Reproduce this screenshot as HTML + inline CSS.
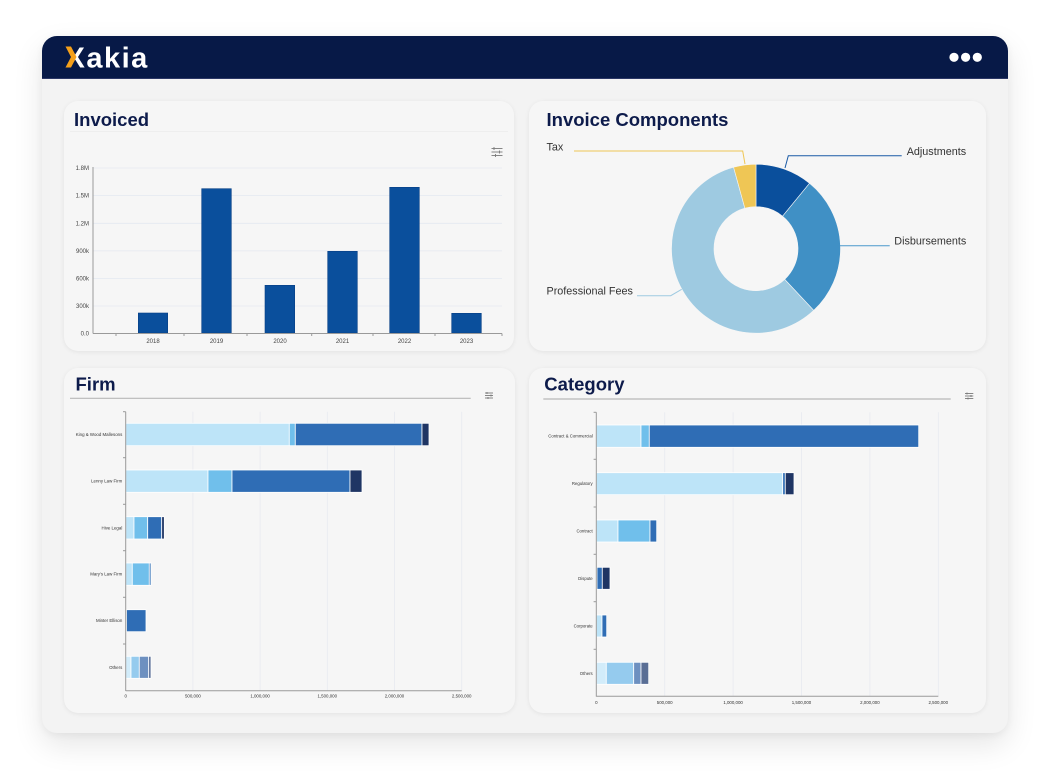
<!DOCTYPE html>
<html><head><meta charset="utf-8">
<style>
html,body{margin:0;padding:0;background:#fff;}
body{width:1059px;height:782px;position:relative;overflow:hidden;font-family:"Liberation Sans",sans-serif;}
.card{position:absolute;left:42px;top:36px;width:966px;height:697px;background:#f3f3f3;border-radius:15px;box-shadow:0 12px 30px rgba(0,0,0,0.10),0 2px 8px rgba(0,0,0,0.05);}
.hdr{position:absolute;left:42px;top:36px;width:966px;height:43px;background:#071947;border-radius:15px 15px 0 0;border-bottom:1px solid #2b3766;box-sizing:border-box;}
.panel{position:absolute;background:#f6f6f6;border-radius:14px;box-shadow:0 1px 5px rgba(0,0,0,0.07);}
svg{position:absolute;left:0;top:0;}
</style></head><body>
<div class="card"></div>
<div class="hdr"></div>
<div class="panel" style="left:64px;top:101px;width:450px;height:250px;"></div>
<div class="panel" style="left:529px;top:101px;width:457px;height:250px;"></div>
<div class="panel" style="left:64px;top:368px;width:451px;height:345px;"></div>
<div class="panel" style="left:529px;top:368px;width:457px;height:345px;"></div>

<svg width="1059" height="782" viewBox="0 0 1059 782" xmlns="http://www.w3.org/2000/svg" font-family="Liberation Sans, sans-serif">
<!-- logo -->
<text x="65.5" y="67.5" font-size="29" font-weight="bold" fill="#ffffff" letter-spacing="1.5">Xakia</text>
<polygon points="65.5,46.5 71,46.5 76.5,57 71,67.5 65.5,67.5 71,57" fill="#f5a01a"/>
<!-- dots -->
<circle cx="954" cy="57.3" r="4.6" fill="#fff"/>
<circle cx="965.6" cy="57.3" r="4.6" fill="#fff"/>
<circle cx="977.3" cy="57.3" r="4.6" fill="#fff"/>

<!-- titles -->
<g font-weight="bold" font-size="18.5" fill="#0d1b4b">
<text x="74" y="126">Invoiced</text>
<text x="546.5" y="126">Invoice Components</text>
<text x="75.5" y="390.5">Firm</text>
<text x="544.3" y="390.5">Category</text>
</g>
<line x1="70" y1="131.5" x2="508" y2="131.5" stroke="#eeeeee" stroke-width="1"/>

<!-- filter icons -->
<g stroke="#7a7a7a" stroke-width="0.9" fill="none">
<line x1="491.5" y1="148.5" x2="502.5" y2="148.5"/><line x1="491.5" y1="152" x2="502.5" y2="152"/><line x1="491.5" y1="155.5" x2="502.5" y2="155.5"/>
<line x1="494" y1="147" x2="494" y2="150"/><line x1="499.5" y1="150.5" x2="499.5" y2="153.5"/><line x1="495.5" y1="154" x2="495.5" y2="157"/>
<line x1="485" y1="393" x2="493" y2="393"/><line x1="485" y1="395.5" x2="493" y2="395.5"/><line x1="485" y1="398" x2="493" y2="398"/>
<line x1="487" y1="392" x2="487" y2="394"/><line x1="491" y1="394.5" x2="491" y2="396.5"/><line x1="488" y1="397" x2="488" y2="399"/>
<line x1="965" y1="393.5" x2="973.3" y2="393.5"/><line x1="965" y1="396" x2="973.3" y2="396"/><line x1="965" y1="398.5" x2="973.3" y2="398.5"/>
<line x1="967" y1="392.5" x2="967" y2="394.5"/><line x1="971" y1="395" x2="971" y2="397"/><line x1="968" y1="397.5" x2="968" y2="399.5"/>
</g>

<!-- ===== Invoiced chart ===== -->
<g stroke="#e4e8f0" stroke-width="0.8">
<line x1="93" y1="168" x2="502" y2="168"/><line x1="93" y1="195.6" x2="502" y2="195.6"/>
<line x1="93" y1="223.3" x2="502" y2="223.3"/><line x1="93" y1="250.9" x2="502" y2="250.9"/>
<line x1="93" y1="278.4" x2="502" y2="278.4"/><line x1="93" y1="306" x2="502" y2="306"/>
</g>
<g fill="#0a4f9c" stroke="#083f85" stroke-width="0.6">
<rect x="138.3" y="313" width="29.4" height="20"/>
<rect x="201.7" y="188.7" width="29.6" height="144.3"/>
<rect x="265" y="285.3" width="29.7" height="47.7"/>
<rect x="327.7" y="251.3" width="29.6" height="81.7"/>
<rect x="389.7" y="187.3" width="29.6" height="145.7"/>
<rect x="451.7" y="313.3" width="29.6" height="19.7"/>
</g>
<g stroke="#9a9a9a" stroke-width="1">
<line x1="93" y1="167" x2="93" y2="333.5"/>
<line x1="93" y1="333.5" x2="502" y2="333.5"/>
<line x1="116" y1="333.5" x2="116" y2="336"/><line x1="184" y1="333.5" x2="184" y2="336"/>
<line x1="247" y1="333.5" x2="247" y2="336"/><line x1="311.7" y1="333.5" x2="311.7" y2="336"/>
<line x1="373" y1="333.5" x2="373" y2="336"/><line x1="435" y1="333.5" x2="435" y2="336"/>
<line x1="502" y1="333.5" x2="502" y2="336"/>
</g>
<g font-size="6" fill="#444" text-anchor="end">
<text x="89" y="170">1.8M</text><text x="89" y="197.6">1.5M</text><text x="89" y="225.3">1.2M</text>
<text x="89" y="252.9">900k</text><text x="89" y="280.4">600k</text><text x="89" y="308">300k</text><text x="89" y="335.5">0.0</text>
</g>
<g font-size="6" fill="#444" text-anchor="middle">
<text x="153" y="343">2018</text><text x="216.5" y="343">2019</text><text x="280" y="343">2020</text>
<text x="342.5" y="343">2021</text><text x="404.5" y="343">2022</text><text x="466.5" y="343">2023</text>
</g>

<!-- ===== Donut ===== -->
<g stroke="#f6f6f6" stroke-width="0.6">
<path d="M756,164.2 A84.5,84.5 0 0 1 809.52,183.31 L782.60,216.20 A42,42 0 0 0 756,206.7 Z" fill="#0a4f9c"/>
<path d="M809.52,183.31 A84.5,84.5 0 0 1 813.74,310.40 L784.70,279.37 A42,42 0 0 0 782.60,216.20 Z" fill="#4090c5"/>
<path d="M813.74,310.40 A84.5,84.5 0 1 1 733.56,167.23 L744.85,208.21 A42,42 0 1 0 784.70,279.37 Z" fill="#9ecae1"/>
<path d="M733.56,167.23 A84.5,84.5 0 0 1 756,164.2 L756,206.7 A42,42 0 0 0 744.85,208.21 Z" fill="#efc655"/>
</g>
<g fill="none" stroke-width="1">
<polyline points="574,151 742.7,151 745,164" stroke="#efc655"/>
<polyline points="901.7,155.7 788.3,155.7 785,168" stroke="#1a5aa5"/>
<polyline points="889.7,245.7 840,245.7" stroke="#4a98cc"/>
<polyline points="637,295.7 670.7,295.7 681.7,289.3" stroke="#9ecae1"/>
</g>
<g font-size="10.8" fill="#333">
<text x="546.5" y="150.5">Tax</text>
<text x="906.7" y="155">Adjustments</text>
<text x="894.3" y="244.5">Disbursements</text>
<text x="546.5" y="294.5">Professional Fees</text>
</g>

<!-- ===== Firm chart ===== -->
<line x1="70" y1="398.3" x2="470.7" y2="398.3" stroke="#b8b8b8" stroke-width="1.2"/>
<g stroke="#e8eaf0" stroke-width="0.8">
<line x1="192.9" y1="411.7" x2="192.9" y2="690.7"/><line x1="260.1" y1="411.7" x2="260.1" y2="690.7"/>
<line x1="327.3" y1="411.7" x2="327.3" y2="690.7"/><line x1="394.5" y1="411.7" x2="394.5" y2="690.7"/>
<line x1="461.7" y1="411.7" x2="461.7" y2="690.7"/>
</g>
<g stroke="#ffffff" stroke-width="0.8">
<rect x="125.7" y="423.3" width="163.6" height="22.4" fill="#bde4f8"/>
<rect x="289.3" y="423.3" width="6" height="22.4" fill="#70bfeb"/>
<rect x="295.3" y="423.3" width="126.7" height="22.4" fill="#2f6db5"/>
<rect x="422" y="423.3" width="7" height="22.4" fill="#1f3564"/>

<rect x="125.7" y="470" width="82.3" height="22.3" fill="#bde4f8"/>
<rect x="208" y="470" width="24" height="22.3" fill="#70bfeb"/>
<rect x="232" y="470" width="118" height="22.3" fill="#2f6db5"/>
<rect x="350" y="470" width="12" height="22.3" fill="#1f3564"/>

<rect x="125.7" y="516.7" width="8.3" height="22.3" fill="#bde4f8"/>
<rect x="134" y="516.7" width="13.7" height="22.3" fill="#70bfeb"/>
<rect x="147.7" y="516.7" width="14" height="22.3" fill="#2f6db5"/>
<rect x="161.7" y="516.7" width="2.6" height="22.3" fill="#1f3564"/>

<rect x="125.7" y="563" width="6.6" height="22.3" fill="#bde4f8"/>
<rect x="132.3" y="563" width="17" height="22.3" fill="#70bfeb"/>
<rect x="149.3" y="563" width="1.7" height="22.3" fill="#2f6db5"/>

<rect x="126.5" y="609.7" width="19.5" height="22" fill="#2f6db5"/>

<rect x="125.7" y="656.3" width="5.3" height="22" fill="#d2ecfa"/>
<rect x="131" y="656.3" width="8.3" height="22" fill="#95cbee"/>
<rect x="139.3" y="656.3" width="9.4" height="22" fill="#6d90c0"/>
<rect x="148.7" y="656.3" width="2.3" height="22" fill="#596e95"/>
</g>
<g stroke="#9a9a9a" stroke-width="1">
<line x1="125.7" y1="411.7" x2="125.7" y2="691"/>
<line x1="125.7" y1="690.7" x2="461.7" y2="690.7"/>
<line x1="123" y1="411.7" x2="125.7" y2="411.7"/><line x1="123" y1="457.7" x2="125.7" y2="457.7"/>
<line x1="123" y1="504.3" x2="125.7" y2="504.3"/><line x1="123" y1="550.7" x2="125.7" y2="550.7"/>
<line x1="123" y1="597.3" x2="125.7" y2="597.3"/><line x1="123" y1="644" x2="125.7" y2="644"/>
</g>
<g font-size="4.4" fill="#333" text-anchor="end">
<text x="122.3" y="436">King &amp; Wood Mallesons</text>
<text x="122.3" y="482.7">Lenny Law Firm</text>
<text x="122.3" y="529.3">Hive Legal</text>
<text x="122.3" y="575.7">Mary's Law Firm</text>
<text x="122.3" y="622.2">Minter Ellison</text>
<text x="122.3" y="668.8">Others</text>
</g>
<g font-size="4.4" fill="#333" text-anchor="middle">
<text x="125.7" y="697.5">0</text><text x="192.9" y="697.5">500,000</text><text x="260.1" y="697.5">1,000,000</text>
<text x="327.3" y="697.5">1,500,000</text><text x="394.5" y="697.5">2,000,000</text><text x="461.7" y="697.5">2,500,000</text>
</g>

<!-- ===== Category chart ===== -->
<line x1="543.3" y1="399" x2="950.7" y2="399" stroke="#b8b8b8" stroke-width="1.2"/>
<g stroke="#e8eaf0" stroke-width="0.8">
<line x1="664.7" y1="412.3" x2="664.7" y2="696.3"/><line x1="733.1" y1="412.3" x2="733.1" y2="696.3"/>
<line x1="801.5" y1="412.3" x2="801.5" y2="696.3"/><line x1="869.9" y1="412.3" x2="869.9" y2="696.3"/>
<line x1="938.3" y1="412.3" x2="938.3" y2="696.3"/>
</g>
<g stroke="#ffffff" stroke-width="0.8">
<rect x="596.3" y="425" width="44.7" height="22.3" fill="#bde4f8"/>
<rect x="641" y="425" width="8.3" height="22.3" fill="#70bfeb"/>
<rect x="649.3" y="425" width="269.4" height="22.3" fill="#2f6db5"/>

<rect x="596.3" y="472.7" width="186.4" height="22" fill="#bde4f8"/>
<rect x="782.7" y="472.7" width="2.6" height="22" fill="#2f6db5"/>
<rect x="785.3" y="472.7" width="8.7" height="22" fill="#1f3564"/>

<rect x="596.3" y="520" width="21.7" height="22" fill="#bde4f8"/>
<rect x="618" y="520" width="32" height="22" fill="#70bfeb"/>
<rect x="650" y="520" width="6.7" height="22" fill="#2f6db5"/>

<rect x="597" y="567.3" width="5.3" height="22" fill="#2f6db5"/>
<rect x="602.3" y="567.3" width="7.7" height="22" fill="#1f3564"/>

<rect x="596.3" y="615" width="5.7" height="22" fill="#bde4f8"/>
<rect x="602" y="615" width="4.7" height="22" fill="#2f6db5"/>

<rect x="596.3" y="662.3" width="10" height="22" fill="#d2ecfa"/>
<rect x="606.3" y="662.3" width="27.4" height="22" fill="#95cbee"/>
<rect x="633.7" y="662.3" width="7.3" height="22" fill="#6d90c0"/>
<rect x="641" y="662.3" width="7.7" height="22" fill="#596e95"/>
</g>
<g stroke="#9a9a9a" stroke-width="1">
<line x1="596.3" y1="412.3" x2="596.3" y2="696.6"/>
<line x1="596.3" y1="696.3" x2="938.3" y2="696.3"/>
<line x1="593.6" y1="412.3" x2="596.3" y2="412.3"/><line x1="593.6" y1="459.3" x2="596.3" y2="459.3"/>
<line x1="593.6" y1="507" x2="596.3" y2="507"/><line x1="593.6" y1="554.3" x2="596.3" y2="554.3"/>
<line x1="593.6" y1="601.7" x2="596.3" y2="601.7"/><line x1="593.6" y1="649.3" x2="596.3" y2="649.3"/>
</g>
<g font-size="4.3" fill="#333" text-anchor="end">
<text x="592.7" y="437.7">Contract &amp; Commercial</text>
<text x="592.7" y="485.2">Regulatory</text>
<text x="592.7" y="532.5">Contract</text>
<text x="592.7" y="579.8">Dispute</text>
<text x="592.7" y="627.5">Corporate</text>
<text x="592.7" y="674.8">Others</text>
</g>
<g font-size="4.4" fill="#333" text-anchor="middle">
<text x="596.3" y="703.8">0</text><text x="664.7" y="703.8">500,000</text><text x="733.1" y="703.8">1,000,000</text>
<text x="801.5" y="703.8">1,500,000</text><text x="869.9" y="703.8">2,000,000</text><text x="938.3" y="703.8">2,500,000</text>
</g>
</svg>
</body></html>
